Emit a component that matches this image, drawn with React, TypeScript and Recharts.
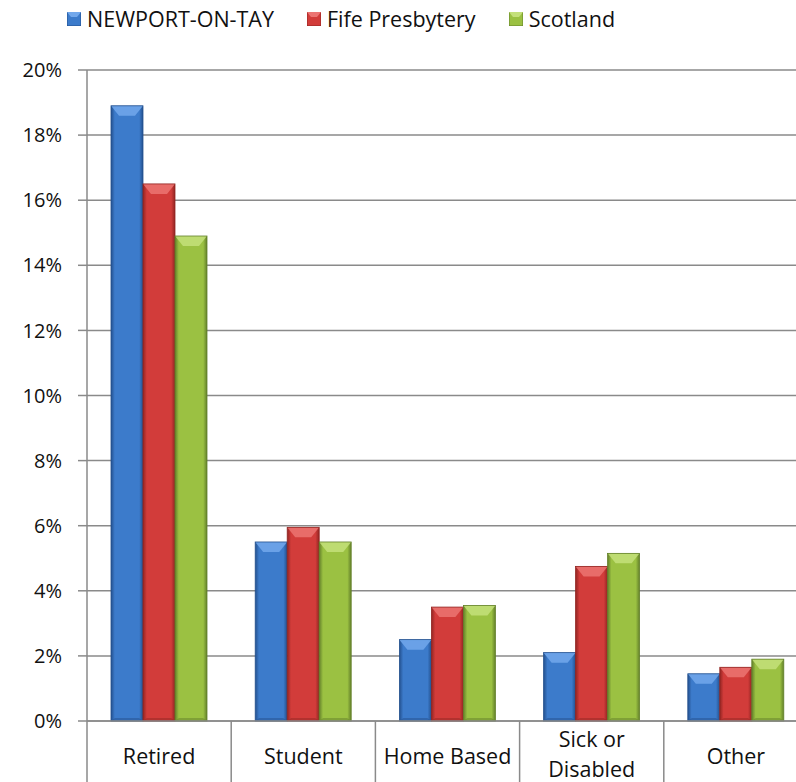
import { BarChart, Bar, XAxis, YAxis, CartesianGrid, Legend } from 'recharts'

const categories = ['Retired', 'Student', 'Home Based', 'Sick or Disabled', 'Other']
const newport = [18.9, 5.5, 2.5, 2.1, 1.45]
const fife = [16.5, 5.95, 3.5, 4.75, 1.65]
const scotland = [14.9, 5.5, 3.55, 5.15, 1.9]
const yTicks = [0, 2, 4, 6, 8, 10, 12, 14, 16, 18, 20]
const tickLines: Record<string, string[]> = { 'Sick or Disabled': ['Sick or', 'Disabled'] }

const series = [
  { key: 'newport', name: 'NEWPORT-ON-TAY', main: '#3c7bcb', light: '#72a8ec', dark: '#23508e' },
  { key: 'fife', name: 'Fife Presbytery', main: '#d23c3a', light: '#ec7472', dark: '#922522' },
  { key: 'scotland', name: 'Scotland', main: '#9bc142', light: '#c4e07a', dark: '#63802a' },
]

const data = categories.map((c, i) => ({
  category: c,
  newport: newport[i],
  fife: fife[i],
  scotland: scotland[i],
}))

const FONT = '"Open Sans", sans-serif'
const GRID = '#8a8a8a'
const W = 830
const H = 782

function makeShape(s: (typeof series)[number]) {
  return (props: any) => {
    const { x, y, width: w, height: h } = props
    if (!h || h <= 0) return <g />
    const b = Math.min(10, h / 2)
    const id = `grad-${s.key}`
    return (
      <g>
        <defs>
          <linearGradient id={id} x1="0" y1="0" x2="1" y2="0">
            <stop offset="0%" stopColor={s.dark} />
            <stop offset="12%" stopColor={s.main} />
            <stop offset="55%" stopColor={s.main} />
            <stop offset="88%" stopColor={s.main} />
            <stop offset="100%" stopColor={s.dark} />
          </linearGradient>
        </defs>
        <rect x={x} y={y} width={w} height={h} fill={`url(#${id})`} />
        <polygon
          points={`${x},${y} ${x + w},${y} ${x + w - 8},${y + b} ${x + 8},${y + b}`}
          fill={s.light}
          opacity={0.85}
        />
        <polygon
          points={`${x},${y + h} ${x + w},${y + h} ${x + w - 4},${y + h - 3} ${x + 4},${y + h - 3}`}
          fill={s.dark}
          opacity={0.5}
        />
        <rect x={x} y={y} width={w} height={h} fill="none" stroke={s.dark} strokeWidth={0.8} />
      </g>
    )
  }
}

function CategoryTick(props: any) {
  const { x, y, payload, index, width } = props
  const band = (width || 721) / categories.length
  const lines = tickLines[payload.value] ?? [payload.value]
  const left = x - band / 2
  const right = x + band / 2
  const startY = lines.length > 1 ? y + 20 : y + 37
  return (
    <g>
      <line x1={left} x2={left} y1={y} y2={y + 61} stroke={GRID} strokeWidth={1.5} />
      {index === categories.length - 1 && (
        <line x1={right} x2={right} y1={y} y2={y + 61} stroke={GRID} strokeWidth={1.5} />
      )}
      <text x={x} y={startY} textAnchor="middle" dominantBaseline="middle" fontFamily={FONT} fontSize={21.5} fill="#111">
        {lines.map((ln, i) => (
          <tspan key={ln} x={x} dy={i === 0 ? 0 : 30}>
            {ln}
          </tspan>
        ))}
      </text>
    </g>
  )
}

function Marker({ s }: { s: (typeof series)[number] }) {
  return (
    <svg width={14} height={14} style={{ display: 'block' }}>
      <rect x={0} y={0} width={14} height={14} fill={s.main} stroke={s.dark} strokeWidth={1} />
      <polygon points="0,0 14,0 10,5 4,5" fill={s.light} />
    </svg>
  )
}

function LegendContent() {
  return (
    <div
      style={{
        position: 'absolute',
        top: 4,
        left: 67,
        display: 'flex',
        alignItems: 'center',
        fontFamily: FONT,
        fontSize: 21.5,
        color: '#111',
        whiteSpace: 'nowrap',
      }}
    >
      {series.map((s) => (
        <div key={s.key} style={{ display: 'flex', alignItems: 'center', marginRight: 33 }}>
          <Marker s={s} />
          <span style={{ marginLeft: 6 }}>{s.name}</span>
        </div>
      ))}
    </div>
  )
}

export default function App() {
  return (
    <div
      style={{
        position: 'absolute',
        left: 0,
        top: 0,
        width: 796,
        height: 782,
        overflow: 'hidden',
        background: '#fff',
      }}
    >
      <BarChart
        width={W}
        height={H}
        data={data}
        margin={{ top: 70, right: 22, bottom: 0, left: 0 }}
        barSize={32}
        barGap={0}
      >
        <CartesianGrid vertical={false} stroke={GRID} strokeWidth={1.5} />
        <Legend
          content={<LegendContent />}
          wrapperStyle={{ position: 'absolute', top: 0, left: 0, width: W, height: 0 }}
        />
        <XAxis
          dataKey="category"
          height={61}
          tickSize={0}
          tickMargin={0}
          interval={0}
          axisLine={{ stroke: GRID, strokeWidth: 1.5 }}
          tick={<CategoryTick />}
        />
        <YAxis
          width={87}
          domain={[0, 20]}
          ticks={yTicks}
          tickFormatter={(v: number) => `${v}%`}
          tickSize={9}
          tickMargin={16}
          axisLine={{ stroke: GRID, strokeWidth: 1.5 }}
          tickLine={{ stroke: GRID, strokeWidth: 1.5 }}
          tick={{ fontFamily: FONT, fontSize: 20, fill: '#111' }}
          interval={0}
        />
        {series.map((s) => (
          <Bar key={s.key} dataKey={s.key} name={s.name} shape={makeShape(s)} isAnimationActive={false} />
        ))}
      </BarChart>
    </div>
  )
}
